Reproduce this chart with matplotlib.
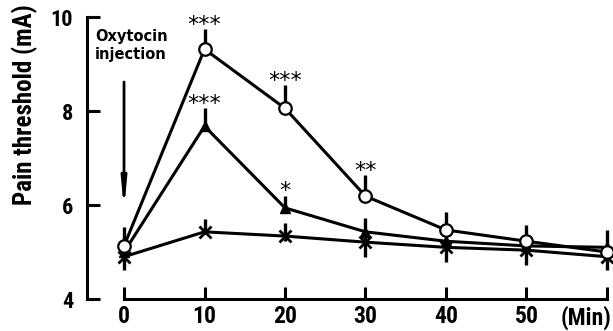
import matplotlib
matplotlib.use('Agg')
import matplotlib.pyplot as plt
import matplotlib.transforms as mtransforms
import numpy as np

plt.rcParams['font.family'] = ['Roboto Condensed', 'Liberation Sans Narrow', 'Roboto', 'DejaVu Sans']

minutes = [0, 10, 20, 30, 40, 50, 60]

circ     = [5.13, 9.32, 8.06, 6.19, 5.47, 5.23, 5.00]
circ_up  = [0.40, 0.42, 0.50, 0.45, 0.38, 0.34, 0.20]

tri      = [5.00, 7.68, 5.94, 5.43, 5.23, 5.13, 5.10]
tri_up   = [0.30, 0.38, 0.25, 0.30, 0.20, 0.20, 0.37]

cross    = [4.90, 5.43, 5.34, 5.21, 5.10, 5.04, 4.90]
cross_lo = [0.28, 0.00, 0.10, 0.31, 0.31, 0.32, 0.28]
cross_hi = [0.20, 0.27, 0.28, 0.10, 0.10, 0.10, 0.10]

stars = [(10, 9.74, '***'), (20, 8.55, '***'), (10, 8.06, '***'),
         (20, 6.20, '*'), (30, 6.64, '**')]

xticks = [0, 10, 20, 30, 40, 50, 60]
xlabels = ['0', '10', '20', '30', '40', '50', '']
yticks = [4, 6, 8, 10]

fig = plt.figure(figsize=(6.13, 3.31), dpi=100)
ax = fig.add_axes([87/613, 32/331, 526/613, 294/331])

lw = 2.2
kw = dict(color='black', lw=lw, elinewidth=2.4, capsize=0, zorder=3)
ax.errorbar(minutes, cross, yerr=[cross_lo, cross_hi], marker='x', ms=8, mew=2, **kw)
ax.errorbar(minutes, tri, yerr=[np.zeros(7), tri_up], marker='^', ms=7, mfc='black', **kw)
ax.errorbar(minutes, circ, yerr=[np.zeros(7), circ_up], marker='o', ms=9,
            mfc='white', mew=1.6, **kw)

for x, y, s in stars:
    ax.text(x, y - 0.12, s, ha='center', va='bottom', fontsize=16, family='DejaVu Sans')

ax.annotate('', xy=(0, 5.83), xytext=(0, 8.68),
            arrowprops=dict(arrowstyle='-|>,head_length=1.6,head_width=0.15',
                            color='black', lw=2))
ax.text(-3.6, 9.4, 'Oxytocin\ninjection', fontsize=10.5, fontweight='bold',
        family='DejaVu Sans', ha='left', va='center', linespacing=1.2)

ax.set_xlim(-4.6, 60.75)
ax.set_ylim(4, 10.26)
for s in ['top', 'right']:
    ax.spines[s].set_visible(False)
ax.spines['left'].set_bounds(4, 10)
ax.spines['bottom'].set_bounds(0, 60)
ax.spines['left'].set_linewidth(2.2)
ax.spines['bottom'].set_linewidth(2.2)

ax.set_xticks(xticks)
ax.set_xticklabels(xlabels, fontsize=17, fontweight='bold')
ax.set_yticks(yticks)
ax.set_yticklabels([str(t) for t in yticks], fontsize=16, fontweight='bold')
ax.tick_params(axis='both', direction='in', length=9, width=2.2, pad=4)
ax.tick_params(axis='y', pad=10)

trans = mtransforms.blended_transform_factory(fig.transFigure, ax.transAxes)
ax.text(0.997, -0.022, '(Min)', transform=trans, ha='right', va='top',
        fontsize=17, fontweight='bold')
ax.set_ylabel('Pain threshold (mA)', fontsize=18, fontweight='bold')
ax.yaxis.set_label_coords(-0.093, 0.66)

fig.savefig('out.png', dpi=100)
